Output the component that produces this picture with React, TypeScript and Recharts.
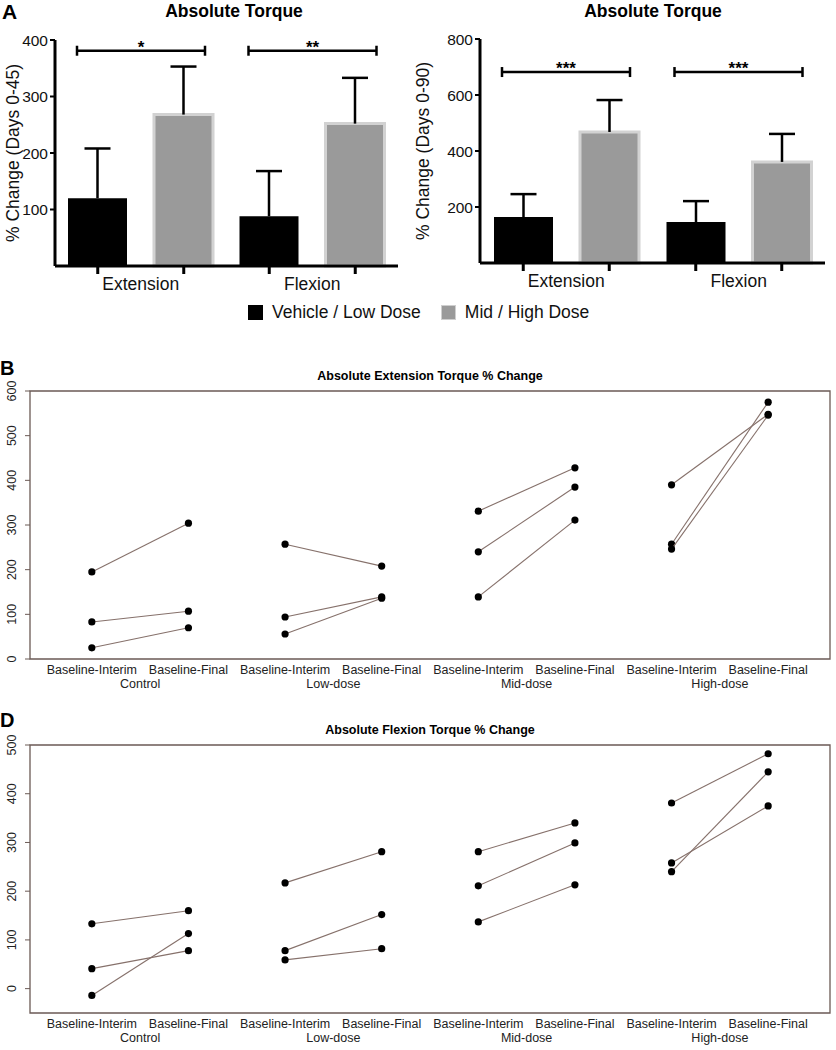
import React from 'react';
import {
  BarChart, Bar, XAxis, YAxis, ScatterChart, Scatter, ReferenceArea,
} from 'recharts';

// Panel A
const categories = ['Extension', 'Flexion'];
const lowDose45 = [120, 88];
const lowDose45Err = [88, 80];
const highDose45 = [268, 252];
const highDose45Err = [85, 81];
const lowDose90 = [164, 146];
const lowDose90Err = [82, 75];
const highDose90 = [468, 361];
const highDose90Err = [114, 100];
const sig45 = ['*', '**'];
const sig90 = ['***', '***'];

// Panels B and D
const groups = ['Control', 'Low-dose', 'Mid-dose', 'High-dose'];
const timepoints = ['Baseline-Interim', 'Baseline-Final'];
const extInterim = [[195, 83, 25], [257, 94, 56], [331, 240, 139], [390, 257, 246]];
const extFinal = [[304, 107, 70], [208, 139, 136], [428, 385, 311], [548, 575, 546]];
const flexInterim = [[133, 41, -14], [217, 78, 59], [281, 211, 137], [381, 258, 240]];
const flexFinal = [[160, 78, 113], [281, 152, 82], [340, 299, 213], [482, 375, 445]];

const FONT = '"Liberation Sans", Arial, sans-serif';
const GRAY = '#9a9a9a';
const BAR_SIZE = 59;
const BAR_GAP = 27;

const barRows = (low: number[], lowErr: number[], high: number[], highErr: number[], sig: string[], sigY: number) =>
  categories.map((c, i) => ({
    name: c,
    low: low[i],
    lowTop: low[i] + lowErr[i],
    high: high[i],
    highTop: high[i] + highErr[i],
    sig: sig[i],
    sigY,
  }));

// category label plus a tick mark under each bar of the group
const barTick = (props: any) => {
  const { x, y, payload } = props;
  const d = (BAR_SIZE + BAR_GAP) / 2;
  return (
    <g>
      <line x1={x - d} x2={x - d} y1={y} y2={y + 8} stroke="#000" strokeWidth={3} />
      <line x1={x + d} x2={x + d} y1={y} y2={y + 8} stroke="#000" strokeWidth={3} />
      <text x={x} y={y + 24} textAnchor="middle" fontSize={17.5} fontFamily={FONT} fill="#111">
        {payload.value}
      </text>
    </g>
  );
};

// upper-only SD whisker: bar spans 0..mean+SD, line drawn from mean to mean+SD
const whisker = (baseKey: string) => (p: any) => {
  const { x, y, width, height, payload } = p;
  const top = payload[baseKey + 'Top'];
  const yBase = y + height * (1 - payload[baseKey] / top);
  const cx = x + width / 2;
  return (
    <g stroke="#000" strokeWidth={2.5}>
      <line x1={cx} x2={cx} y1={yBase} y2={y} />
      <line x1={cx - 13} x2={cx + 13} y1={y} y2={y} />
    </g>
  );
};

const bracketShape = (p: any) => {
  const { x, y, width, payload } = p;
  return (
    <g stroke="#000" strokeWidth={2.5}>
      <line x1={x} x2={x + width} y1={y} y2={y} />
      <line x1={x} x2={x} y1={y - 5} y2={y + 5} />
      <line x1={x + width} x2={x + width} y1={y - 5} y2={y + 5} />
      <text x={x + width / 2} y={y + 2} textAnchor="middle" fontSize={17} fontWeight={700} fontFamily={FONT} fill="#000" stroke="none">
        {payload.sig}
      </text>
    </g>
  );
};

function TorqueBars(props: {
  rows: any[]; yMax: number; yTicks: number[]; yLabel: string;
  width: number; yAxisWidth: number; right: number; top: number; xHeight: number;
}) {
  const { rows, yMax, yTicks, yLabel, width, yAxisWidth, right, top, xHeight } = props;
  return (
    <BarChart width={width} height={300} data={rows} margin={{ top, right, bottom: 0, left: 0 }} barGap={BAR_GAP}>
      <XAxis
        dataKey="name"
        interval={0}
        tick={barTick}
        tickLine={false}
        tickSize={0}
        tickMargin={0}
        axisLine={{ stroke: '#000', strokeWidth: 3 }}
        height={xHeight}
      />
      <XAxis xAxisId="err" dataKey="name" hide height={0} />
      <XAxis xAxisId="sig" dataKey="name" hide height={0} />
      <YAxis
        domain={[0, yMax]}
        ticks={yTicks}
        width={yAxisWidth}
        axisLine={{ stroke: '#000', strokeWidth: 3 }}
        tickLine={{ stroke: '#000', strokeWidth: 2 }}
        tickSize={5}
        tick={{ fontSize: 15.5, fill: '#111', fontFamily: FONT }}
        label={{
          content: (p: any) => {
            const vb = p.viewBox;
            const cx = vb.x + 13;
            const cy = vb.y + vb.height / 2;
            return (
              <text x={cx} y={cy} transform={`rotate(-90 ${cx} ${cy})`} textAnchor="middle" dominantBaseline="central"
                fontSize={17.5} fontFamily={FONT} fill="#111">{yLabel}</text>
            );
          },
        }}
      />
      <Bar dataKey="low" fill="#000" barSize={BAR_SIZE} isAnimationActive={false} />
      <Bar dataKey="high" fill={GRAY} stroke="#d2d2d2" strokeWidth={3} barSize={BAR_SIZE} isAnimationActive={false} />
      <Bar xAxisId="err" dataKey="lowTop" barSize={BAR_SIZE} shape={whisker('low')} isAnimationActive={false} />
      <Bar xAxisId="err" dataKey="highTop" barSize={BAR_SIZE} shape={whisker('high')} isAnimationActive={false} />
      <Bar xAxisId="sig" dataKey="sigY" barSize={128} shape={bracketShape} isAnimationActive={false} />
    </BarChart>
  );
}

const X_MIN = 0.36;
const X_MAX = 8.64;
const pairTicks = [1, 1.5, 2, 3, 3.5, 4, 5, 5.5, 6, 7, 7.5, 8];

const pairTick = (props: any) => {
  const { x, y, payload } = props;
  const v = payload.value;
  if (Number.isInteger(v)) {
    return (
      <text x={x} y={y + 7} textAnchor="middle" fontSize={12.5} fontFamily={FONT} fill="#222">
        {timepoints[(v - 1) % 2]}
      </text>
    );
  }
  return (
    <text x={x} y={y + 21} textAnchor="middle" fontSize={12.5} fontFamily={FONT} fill="#222">
      {groups[Math.floor(v / 2)]}
    </text>
  );
};

const rotTick = (props: any) => {
  const { x, y, payload } = props;
  const cx = x - 7;
  return (
    <text x={cx} y={y} transform={`rotate(-90 ${cx} ${y})`} textAnchor="middle" fontSize={12.5} fontFamily={FONT} fill="#222">
      {payload.value}
    </text>
  );
};

const dot = (p: any) => <circle cx={p.cx} cy={p.cy} r={3.6} fill="#000" />;

function PairedPlot(props: {
  interim: number[][]; final: number[][]; yMin: number; yMax: number; yTicks: number[]; height: number; top: number; xHeight: number;
}) {
  const { interim, final, yMin, yMax, yTicks, height, top, xHeight } = props;
  return (
    <ScatterChart width={836} height={height} margin={{ top, right: 6, bottom: 0, left: 0 }}>
      <XAxis
        type="number"
        dataKey="x"
        domain={[X_MIN, X_MAX]}
        allowDataOverflow
        ticks={pairTicks}
        interval={0}
        tick={pairTick}
        tickLine={false}
        axisLine={false}
        height={xHeight}
      />
      <YAxis
        type="number"
        dataKey="y"
        domain={[yMin, yMax]}
        allowDataOverflow
        ticks={yTicks}
        interval={0}
        width={30}
        tick={rotTick}
        tickSize={5}
        tickLine={{ stroke: '#6b5a55' }}
        axisLine={false}
      />
      <ReferenceArea x1={X_MIN} x2={X_MAX} y1={yMin} y2={yMax} fill="none" stroke="#6b5a55" strokeWidth={1.3} ifOverflow="visible" />
      {interim.map((vals, g) =>
        vals.map((v, k) => (
          <Scatter
            key={g + '-' + k}
            data={[{ x: 2 * g + 1, y: v }, { x: 2 * g + 2, y: final[g][k] }]}
            line={{ stroke: '#86716b', strokeWidth: 1.1 }}
            shape={dot}
            fill="#000"
            isAnimationActive={false}
          />
        )),
      )}
    </ScatterChart>
  );
}

const abs = (left: number, top: number): React.CSSProperties => ({ position: 'absolute', left, top });

export default function App() {
  return (
    <div style={{ position: 'absolute', left: 0, top: 0, width: 836, height: 1050, background: '#fff', fontFamily: FONT }}>
      <div style={{ ...abs(2, 0), fontSize: 21, fontWeight: 700, lineHeight: '24px' }}>A</div>
      <div style={{ ...abs(134, 0), width: 200, textAlign: 'center', fontSize: 17.5, fontWeight: 700, lineHeight: '22px' }}>Absolute Torque</div>
      <div style={{ ...abs(553, 0), width: 200, textAlign: 'center', fontSize: 17.5, fontWeight: 700, lineHeight: '22px' }}>Absolute Torque</div>

      <div style={abs(0, 0)}>
        <TorqueBars
          rows={barRows(lowDose45, lowDose45Err, highDose45, highDose45Err, sig45, 381)}
          yMax={400}
          yTicks={[100, 200, 300, 400]}
          yLabel="% Change (Days 0-45)"
          width={410}
          yAxisWidth={55}
          right={12}
          top={40}
          xHeight={34}
        />
      </div>
      <div style={abs(410, 0)}>
        <TorqueBars
          rows={barRows(lowDose90, lowDose90Err, highDose90, highDose90Err, sig90, 682)}
          yMax={800}
          yTicks={[200, 400, 600, 800]}
          yLabel="% Change (Days 0-90)"
          width={426}
          yAxisWidth={70}
          right={11}
          top={39}
          xHeight={37}
        />
      </div>

      <div style={{ ...abs(248, 302), display: 'flex', alignItems: 'center', fontSize: 17.5, color: '#111', lineHeight: '20px' }}>
        <span style={{ width: 15, height: 15, background: '#000', display: 'inline-block', marginRight: 9 }} />
        <span>Vehicle / Low Dose</span>
        <span style={{ width: 13, height: 13, background: GRAY, border: '1px solid #cfcfcf', display: 'inline-block', marginLeft: 20, marginRight: 9 }} />
        <span>Mid / High Dose</span>
      </div>

      <div style={{ ...abs(0, 356), fontSize: 20, fontWeight: 700, lineHeight: '24px' }}>B</div>
      <div style={{ ...abs(230, 368), width: 400, textAlign: 'center', fontSize: 12.5, fontWeight: 700, lineHeight: '16px' }}>
        Absolute Extension Torque % Change
      </div>
      <div style={abs(0, 340)}>
        <PairedPlot interim={extInterim} final={extFinal} yMin={0} yMax={600} yTicks={[0, 100, 200, 300, 400, 500, 600]} height={360} top={51} xHeight={41} />
      </div>

      <div style={{ ...abs(0, 708), fontSize: 20, fontWeight: 700, lineHeight: '24px' }}>D</div>
      <div style={{ ...abs(230, 722), width: 400, textAlign: 'center', fontSize: 12.5, fontWeight: 700, lineHeight: '16px' }}>
        Absolute Flexion Torque % Change
      </div>
      <div style={abs(0, 700)}>
        <PairedPlot interim={flexInterim} final={flexFinal} yMin={-50} yMax={500} yTicks={[0, 100, 200, 300, 400, 500]} height={350} top={45} xHeight={37} />
      </div>
    </div>
  );
}
